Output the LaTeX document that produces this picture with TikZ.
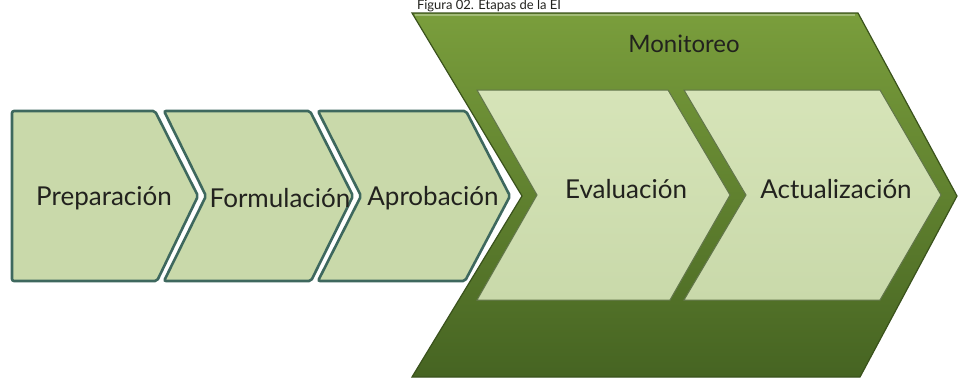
\documentclass[tikz,border=0pt]{standalone}
\usepackage{fontspec}
\setmainfont{Lato}
\definecolor{monidark}{RGB}{70, 100, 34}
\definecolor{monilight}{RGB}{122, 158, 60}
\definecolor{moniedge}{RGB}{58, 82, 28}
\definecolor{stagefill}{RGB}{201, 217, 170}
\definecolor{stagetop}{RGB}{214, 228, 184}
\definecolor{stepedge}{RGB}{62, 104, 94}
\definecolor{textdark}{RGB}{34, 34, 30}
\usetikzlibrary{positioning, calc}

\begin{document}
\begin{tikzpicture}[x=1pt, y=-1pt,
  stepshape/.style={fill=stagefill, draw=stepedge, line width=2.6pt, rounded corners=2pt,
    preaction={draw=white, line width=6pt}},
  innershape/.style={top color=stagetop, bottom color=stagefill, draw=moniedge!80, line width=1pt},
  steplabel/.style={font=\fontsize{26}{30}\selectfont, text=textdark, inner sep=1pt}]
  \useasboundingbox (0,0) rectangle (958,378);

  % Caption
  \node[font=\fontsize{13}{15}\selectfont, text=textdark, inner sep=0pt] (caption) at (489, 6) {Figura 02. Etapas de la EI};

  % Monitoreo chevron
  \shade[top color=monilight, bottom color=monidark, draw=moniedge, line width=1.2pt]
    (412,13) -- (858,13) -- (957,196) -- (860,377) -- (412,377) -- (522,196) -- cycle;
  \draw[monilight!70!white, line width=1.5pt] (415,15) -- (855,15);
  \node[font=\fontsize{24}{28}\selectfont, text=textdark] (moni) at (684, 44) {Monitoreo};

  % Inner stages
  \path[innershape] (477,90) -- (668,90) -- (730,195) -- (670,300) -- (477,300) -- (537,195) -- cycle;
  \path[innershape] (684,90) -- (880,90) -- (941,195) -- (880,300) -- (684,300) -- (746,195) -- cycle;
  \node[steplabel] (eval) at (626, 189) {Evaluación};
  \node[steplabel] (actual) at (836, 189) {Actualización};

  % First stages
  \path[stepshape] (12,111) -- (155,111) -- (198,196) -- (157,281) -- (12,281) -- cycle;
  \path[stepshape] (164,111) -- (310,111) -- (353,196) -- (311,281) -- (164,281) -- (206,196) -- cycle;
  \path[stepshape] (318,111) -- (466,111) -- (510,196) -- (465,281) -- (318,281) -- (361,196) -- cycle;
  \node[steplabel] (prep) at (104, 198) {Preparación};
  \node[steplabel] (form) at (280, 198) {Formulación};
  \node[steplabel] (aprob) at (433, 198) {Aprobación};
\end{tikzpicture}
\end{document}
